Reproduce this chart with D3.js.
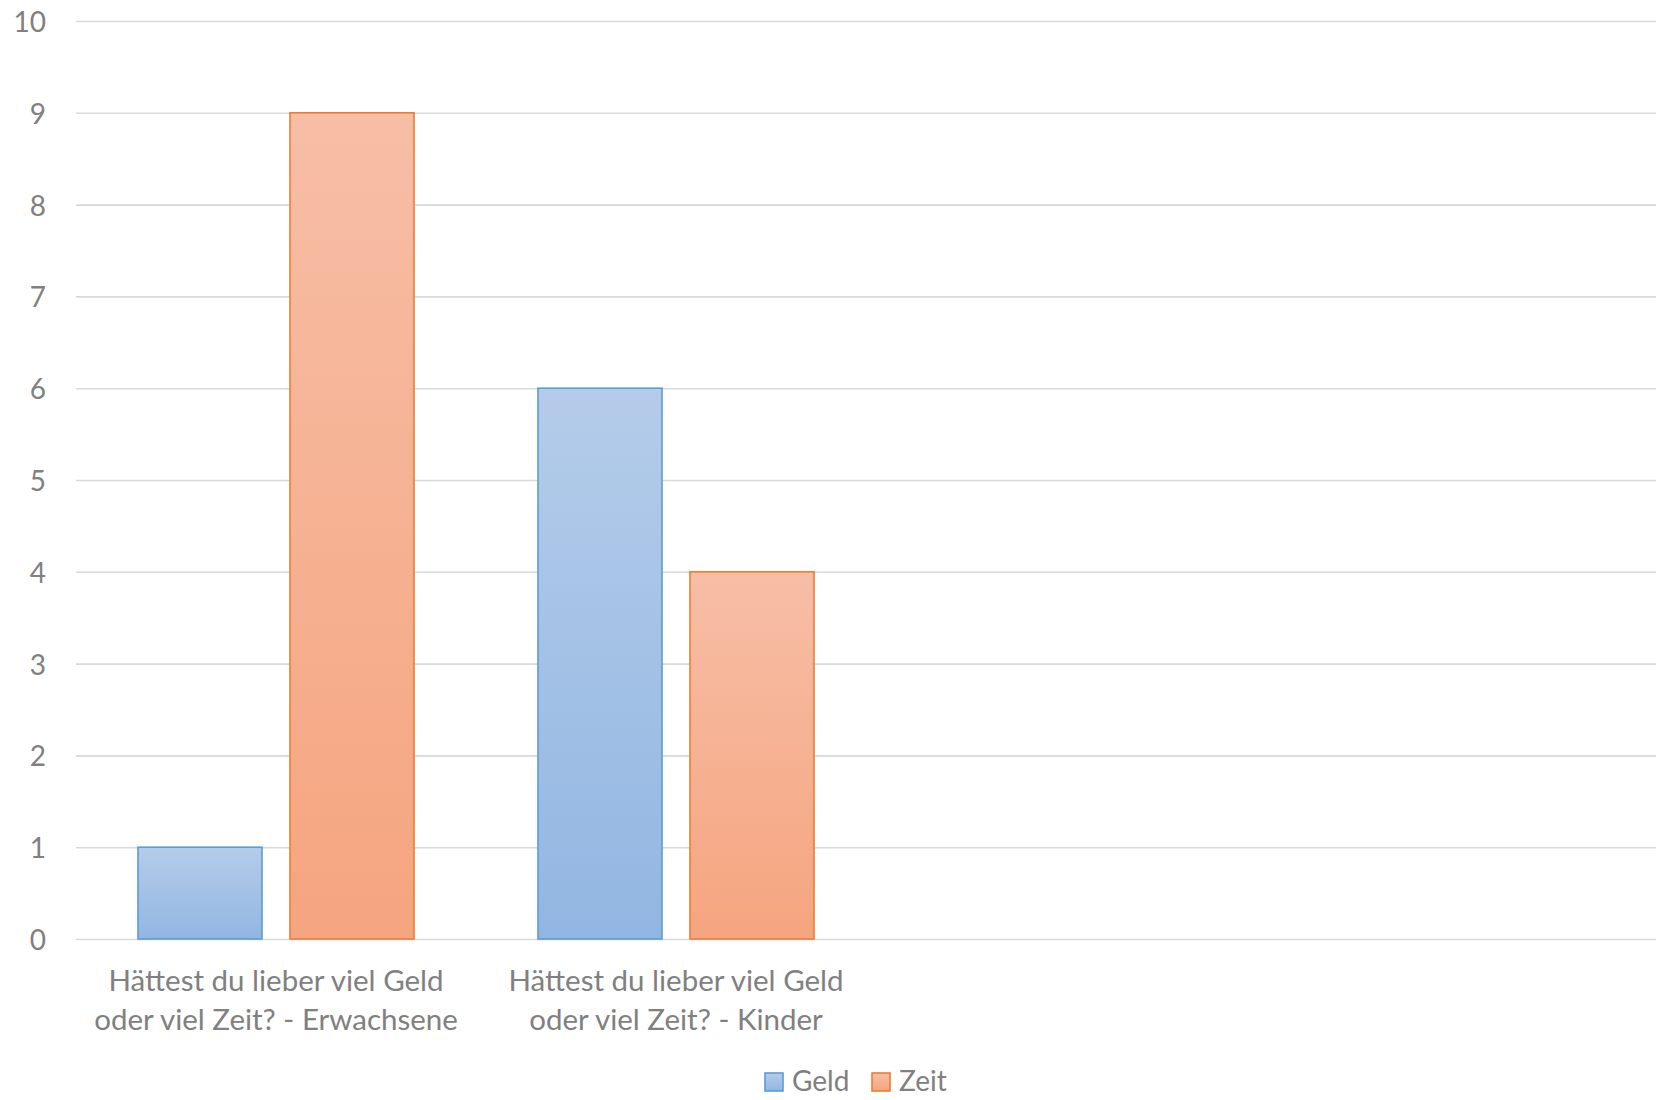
<!DOCTYPE html>
<html>
<head>
<meta charset="utf-8">
<script src="https://cdn.jsdelivr.net/npm/d3@7"></script>
<style>
  html, body { margin: 0; padding: 0; background: #ffffff; }
  svg { display: block; }
  text { font-family: Lato, "Open Sans", sans-serif; fill: #808080; }
</style>
</head>
<body>
<svg id="chart" width="1656" height="1100"></svg>
<script>
// ---- data ----
const categories = [
  "Hättest du lieber viel Geld oder viel Zeit? - Erwachsene",
  "Hättest du lieber viel Geld oder viel Zeit? - Kinder",
  "",
  ""
];
const categoryLines = [
  ["Hättest du lieber viel Geld", "oder viel Zeit? - Erwachsene"],
  ["Hättest du lieber viel Geld", "oder viel Zeit? - Kinder"],
  [],
  []
];
const seriesNames = ["Geld", "Zeit"];
const geldValues = [1, 6, null, null];
const zeitValues = [9, 4, null, null];
const yTicks = [0, 1, 2, 3, 4, 5, 6, 7, 8, 9, 10];

// ---- layout ----
const W = 1656, H = 1100;
const plotLeft = 76, plotRight = 1656, yTop = 21, yBottom = 939;
const svg = d3.select("#chart");

const y = d3.scaleLinear().domain([0, 10]).range([yBottom, yTop]);
const x0 = d3.scaleBand().domain(categories.map((c, i) => i)).range([plotLeft, plotLeft + 400 * categories.length]).padding(0);
const x1 = d3.scaleBand().domain(seriesNames).range([0, x0.bandwidth()]).paddingInner(0.1842).paddingOuter(0.4079);

const colors = {
  Geld: { top: "#b4cce9", bottom: "#92b6e2", stroke: "#5b9bd5" },
  Zeit: { top: "#f7bea6", bottom: "#f5a57f", stroke: "#ed7d31" }
};

const defs = svg.append("defs");
seriesNames.forEach(s => {
  const g = defs.append("linearGradient").attr("id", "grad-" + s)
    .attr("x1", 0).attr("y1", 0).attr("x2", 0).attr("y2", 1);
  g.append("stop").attr("offset", "0%").attr("stop-color", colors[s].top);
  g.append("stop").attr("offset", "100%").attr("stop-color", colors[s].bottom);
});
defs.append("clipPath").attr("id", "plotclip").append("rect")
  .attr("x", 0).attr("y", 0).attr("width", W).attr("height", H);

// gridlines
const yAxis = d3.axisLeft(y).tickValues(yTicks).tickSize(-(plotRight - plotLeft)).tickFormat("");
const gGrid = svg.append("g").attr("transform", `translate(${plotLeft},0)`).call(yAxis);
gGrid.select(".domain").remove();
gGrid.selectAll(".tick line").attr("stroke", "#d9d9d9").attr("stroke-width", 1.6);

// tick labels
svg.append("g").selectAll("text").data(yTicks).join("text")
  .attr("x", 46).attr("y", d => y(d))
  .attr("text-anchor", "end").attr("dominant-baseline", "central")
  .style("font-size", "28px")
  .text(d => d);

// bars
const rows = categories.map((c, i) => ({ i, Geld: geldValues[i], Zeit: zeitValues[i] }));
const gBars = svg.append("g").attr("clip-path", "url(#plotclip)");
rows.forEach(r => {
  seriesNames.forEach(s => {
    const v = r[s];
    if (v == null) return;
    gBars.append("rect")
      .attr("x", x0(r.i) + x1(s))
      .attr("y", y(v))
      .attr("width", x1.bandwidth())
      .attr("height", y(0) - y(v))
      .attr("fill", `url(#grad-${s})`)
      .attr("stroke", colors[s].stroke)
      .attr("stroke-width", 1.6);
  });
});

// category labels
const gLab = svg.append("g");
categoryLines.forEach((lines, i) => {
  const cx = x0(i) + x0.bandwidth() / 2;
  lines.forEach((ln, j) => {
    gLab.append("text")
      .attr("x", cx).attr("y", 991 + j * 38.5)
      .attr("text-anchor", "middle")
      .style("font-size", "29.5px")
      .text(ln);
  });
});

// legend
const legendItems = [
  { name: "Geld", x: 765 },
  { name: "Zeit", x: 872 }
];
const gLeg = svg.append("g");
legendItems.forEach(it => {
  gLeg.append("rect").attr("x", it.x).attr("y", 1073).attr("width", 18).attr("height", 18)
    .attr("fill", `url(#grad-${it.name})`).attr("stroke", colors[it.name].stroke).attr("stroke-width", 1.6);
  gLeg.append("text").attr("x", it.x + 27).attr("y", 1091)
    .style("font-size", "28px").text(it.name);
});
</script>
</body>
</html>
